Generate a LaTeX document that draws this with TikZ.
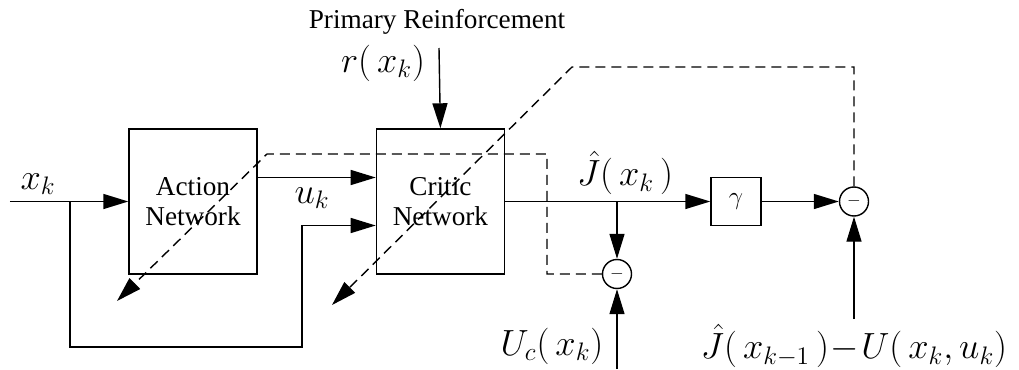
\documentclass[tikz,border=0pt]{standalone}
\usepackage{fontspec}
\setmainfont{Liberation Serif}
\usetikzlibrary{arrows.meta,positioning}

\begin{document}
\begin{tikzpicture}[
  font=\fontsize{15.5}{17}\selectfont,
  box/.style={draw, line width=0.8pt, align=center, inner sep=0pt, minimum width=2.56cm, minimum height=2.9cm},
  gainbox/.style={draw, line width=0.8pt, inner sep=0pt, minimum width=1cm, minimum height=0.96cm},
  sumnode/.style={draw, circle, line width=0.8pt, inner sep=0pt, minimum size=0.58cm, font=\fontsize{10}{12}\selectfont},
  mlabel/.style={font=\fontsize{20}{22}\selectfont, inner sep=1pt},
  ln/.style={line width=0.8pt},
  arr/.style={-{Triangle[length=5mm,width=3mm]}, line width=0.8pt},
  darr/.style={arr, dash pattern=on 2mm off 1.2mm}
]
\useasboundingbox (0,0) rectangle (20.38,7.38);
\node[box] (action) at (3.86,3.35) {Action\\Network};
\node[box, right=2.36cm of action] (critic) {Critic\\Network};
\node[gainbox] (gam) at (14.72,3.35) {$\gamma$};
\node[sumnode] (sum1) at (12.34,1.90) {$-$};
\node[sumnode] (sum2) at (17.08,3.35) {$-$};
\node (prim) at (8.74,6.94) {Primary Reinforcement};
% labels
\node[mlabel] (xk) at (0.76,3.7) {$x_k$};
\node[mlabel] (uk) at (6.24,3.42) {$u_k$};
\node[mlabel] (rxk) at (7.66,6.12) {$r(\,x_k)$};
\node[mlabel] (jxk) at (12.5,3.92) {$\hat{J}(\,x_k\,)$};
\node[mlabel] (ucxk) at (11.04,0.46) {$U_c(\,x_k)$};
\node[mlabel] (jdiff) at (17.08,0.46) {$\hat{J}(\,x_{k-1}\,)\!-\!U(\,x_k,u_k)$};
% free ends and corners
\coordinate (xin) at (0.2,3.35);
\coordinate (xb) at (1.4,3.35);
\coordinate (fbl) at (1.4,0.44);
\coordinate (fbr) at (6.04,0.44);
\coordinate (rin) at (8.78,6.42);
\coordinate (jb) at (12.34,3.35);
\coordinate (ucin) at (12.34,0);
\coordinate (jin) at (17.08,1.0);
\coordinate (d1a) at (10.94,1.90);
\coordinate (d1b) at (10.94,4.30);
\coordinate (d1c) at (5.34,4.30);
\coordinate (d1e) at (2.34,1.36);
\coordinate (d2a) at (17.08,6.04);
\coordinate (d2b) at (11.44,6.04);
\coordinate (d2e) at (6.64,1.28);
% signal lines
\draw[arr] (xin) -- (action.west);
\draw[arr] (xb) -- (fbl) -- (fbr) |- ([yshift=-0.48cm]critic.west);
\draw[arr] ([yshift=0.48cm]action.east) -- ([yshift=0.48cm]critic.west);
\draw[arr] (rin) -- (critic.north);
\draw[ln] (critic.east) -- (jb);
\draw[arr] (jb) -- (gam.west);
\draw[arr] (jb) -- (sum1.north);
\draw[arr] (gam.east) -- (sum2.west);
\draw[arr] (ucin) -- (sum1.south);
\draw[arr] (jin) -- (sum2.south);
% error feedback
\draw[darr] (sum1.west) -- (d1a) -- (d1b) -- (d1c) -- (d1e);
\draw[darr] (sum2.north) -- (d2a) -- (d2b) -- (d2e);
\end{tikzpicture}
\end{document}
